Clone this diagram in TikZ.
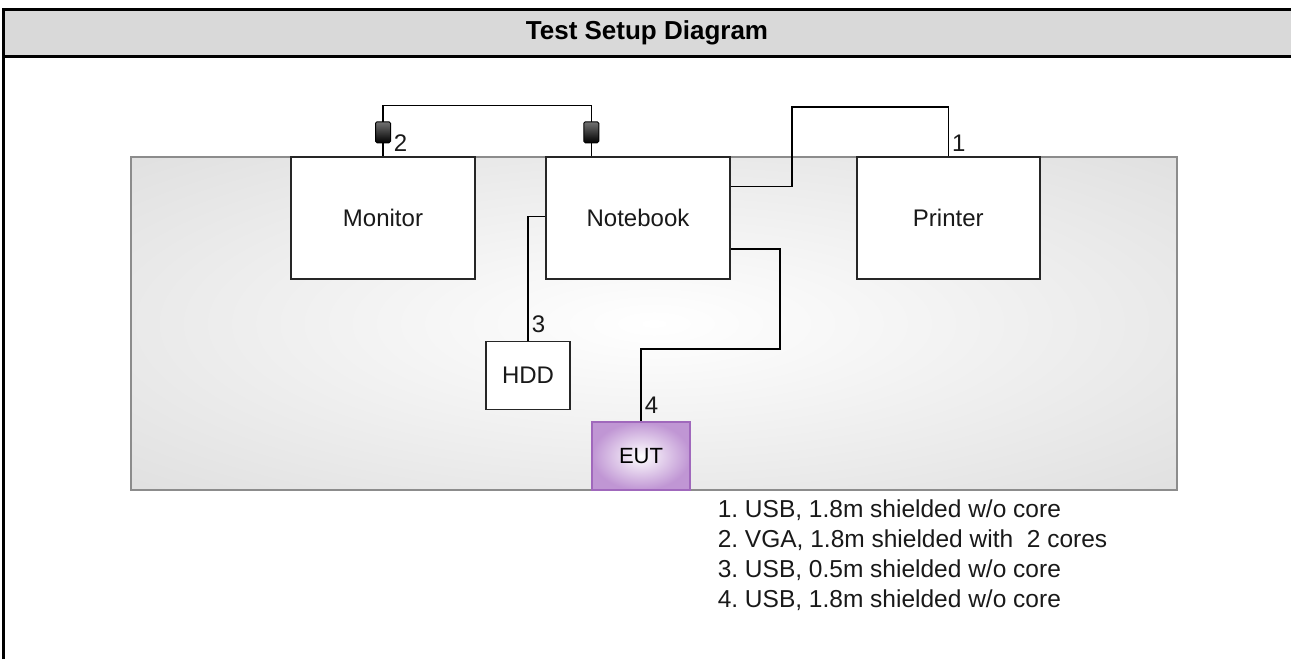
\documentclass[tikz,border=0pt]{standalone}
\usepackage{xcolor}
\usepackage{fontspec}
\setmainfont{Liberation Sans}
\usepackage{tikz}
\usetikzlibrary{calc}
\frenchspacing

\definecolor{headgray}{RGB}{217,217,217}
\definecolor{tableedge}{RGB}{140,140,140}
\definecolor{eutfill}{RGB}{192,150,212}
\definecolor{eutedge}{RGB}{160,104,188}
\pgfdeclareradialshading{tableshade}{\pgfpoint{0bp}{0bp}}{color(0bp)=(white); color(50bp)=(black!17); color(72bp)=(black!22)}

\begin{document}
\begin{tikzpicture}[x=1pt, y=-1pt, line width=1.5pt,
	device/.style={draw=black!85, fill=white, minimum height=122pt, inner sep=0pt, text=black!90, font=\fontsize{24}{28}\selectfont},
	eutbox/.style={draw=eutedge, shading=radial, inner color=white, outer color=eutfill, minimum width=98pt, minimum height=68pt, inner sep=0pt, text=black, font=\fontsize{22}{26}\selectfont},
	core/.style={draw=black, top color=black!55, bottom color=black, rounded corners=1.5pt, minimum width=15pt, minimum height=21pt, inner sep=0pt, line width=1pt},
	cablenum/.style={anchor=south west, inner sep=0pt, text=black!90, font=\fontsize{24}{28}\selectfont}]
	\useasboundingbox (0,0) rectangle (1291,659);
	% frame and header
	\fill[headgray] (3,11) rectangle (1291,55);
	\draw[line width=3pt] (3.5,659) -- (3.5,9.5) -- (1291,9.5);
	\draw[line width=3pt] (2,56) -- (1291,56);
	\node[text=black, font=\bfseries\fontsize{26}{30}\selectfont] (title) at (647,33) {Test Setup Diagram};
	% table
	\shade[shading=tableshade, draw=tableedge] (131,157) rectangle (1177,490);
	% devices
	\node[device, minimum width=184pt] (monitor) at (383,218) {Monitor};
	\node[device, minimum width=184pt] (notebook) at (638,218) {Notebook};
	\node[device, minimum width=183pt] (printer) at (948.3,218) {Printer};
	\node[device, minimum width=84pt, minimum height=68pt] (hdd) at (528,375.5) {HDD};
	\node[eutbox] (eut) at (641,456) {EUT};
	% cables
	\draw (monitor.north) -- ++(0,-50.7) -| ($(notebook.north west)+(46,0)$);
	\node[core] (core1) at ($(monitor.north)+(0,-24)$) {};
	\node[core] (core2) at ($(notebook.north west)+(46,-24)$) {};
	\draw ($(notebook.north east)+(0,30)$) -| (792,107) -| (printer.north);
	\draw ($(notebook.north west)+(0,60)$) -| (hdd.north);
	\draw ($(notebook.north east)+(0,92.6)$) -| (780,349) -| (eut.north);
	% cable numbers
	\node[cablenum, xshift=3pt, yshift=4pt] (num1) at (printer.north) {1};
	\node[cablenum, xshift=10pt, yshift=4pt] (num2) at (monitor.north) {2};
	\node[cablenum, xshift=3pt, yshift=7.5pt] (num3) at (hdd.north) {3};
	\node[cablenum, xshift=3pt, yshift=7.5pt] (num4) at (eut.north) {4};
	% legend
	\node[anchor=north west, inner sep=0pt, align=left, text=black!90, font=\fontsize{24.5}{30}\selectfont] (legend) at (717,499) {1. USB, 1.8m shielded w/o core\\2. VGA, 1.8m shielded with \ 2 cores\\3. USB, 0.5m shielded w/o core\\4. USB, 1.8m shielded w/o core};
\end{tikzpicture}
\end{document}
